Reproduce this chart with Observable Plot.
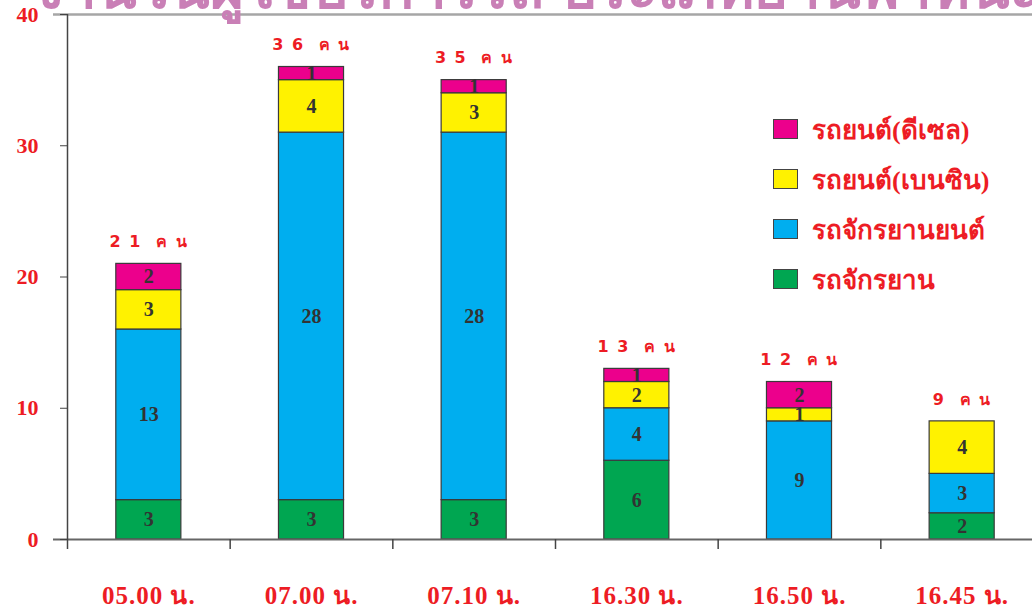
<!DOCTYPE html>
<html>
<head>
<meta charset="utf-8">
<script src="https://cdn.jsdelivr.net/npm/d3@7"></script>
<script src="https://cdn.jsdelivr.net/npm/@observablehq/plot@0.6"></script>
<style>
  html, body { margin: 0; padding: 0; background: #fff; }
  #wrap { position: relative; width: 1032px; height: 610px; overflow: hidden; }
  #title { position: absolute; left: 30px; top: -40px; white-space: nowrap;
           font: bold 58px "Liberation Serif", "Noto Sans", serif; color: #c97fb6; line-height: 1; }
  #legend { position: absolute; left: 773px; top: 104px; }
  .lg { display: flex; align-items: center; height: 50px; }
  .sw { width: 25px; height: 20px; border: 1.5px solid #444; box-sizing: border-box; margin-right: 14px; }
  .lt { font: bold 26px "Liberation Serif", "Noto Sans", serif; color: #ed1c24; }
  svg { position: absolute; left: 0; top: 0; }
</style>
</head>
<body>
<div id="wrap">
  <div id="chart"></div>
  <div id="title">จำนวนผู้ใช้บริการรถ ประเภทยานพาหนะ แยกตามช่วงเวลาที่ผู้ใช้บริการ</div>
  <div id="legend"></div>
</div>
<script>
const categories = ["05.00 น.", "07.00 น.", "07.10 น.", "16.30 น.", "16.50 น.", "16.45 น."];
const types = ["รถจักรยาน", "รถจักรยานยนต์", "รถยนต์(เบนซิน)", "รถยนต์(ดีเซล)"];
const colors = ["#00a651", "#00aeef", "#fff200", "#ec008c"];
const bicycle = [3, 3, 3, 6, 0, 2];
const motorcycle = [13, 28, 28, 4, 9, 3];
const benzine = [3, 4, 3, 2, 1, 4];
const diesel = [2, 1, 1, 1, 2, 0];
const yTicks = [0, 10, 20, 30, 40];

const series = [bicycle, motorcycle, benzine, diesel];
const rows = [];
categories.forEach((c, i) => series.forEach((s, j) => rows.push({cat: c, type: types[j], value: s[i]})));
const totals = categories.map((c, i) => ({cat: c, total: series.reduce((a, s) => a + s[i], 0)}));

const RED = "#ed1c24";
const serif = "Liberation Serif, Times New Roman, serif";
const step = (1043 - 67) / 6;

const plot = Plot.plot({
  width: 1032,
  height: 610,
  marginTop: 14,
  marginBottom: 71,
  marginLeft: 67,
  marginRight: 0,
  x: {domain: categories, range: [67, 1043], paddingInner: 0.6, paddingOuter: 0.3, round: false, axis: null},
  y: {domain: [0, 40], axis: null},
  color: {domain: types, range: colors},
  marks: [
    Plot.ruleY([40], {stroke: "#a6a6a6", strokeWidth: 2.5, insetLeft: -14}),
    Plot.barY(rows, {x: "cat", y: "value", fill: "type", order: types, stroke: "#3a3a3a", strokeWidth: 1.2}),
    Plot.text(rows.filter(d => d.value > 0), Plot.stackY({x: "cat", y: "value", z: "type", order: types, text: d => String(d.value),
      fill: "#333", fontSize: 20, fontWeight: "bold", fontFamily: serif})),
    Plot.text(totals, {x: "cat", y: "total", dy: -22, text: d => String(d.total).split("").join(" ") + "  ค น",
      fill: RED, fontSize: 16, fontWeight: "bold", fontFamily: "DejaVu Sans, Noto Sans, sans-serif"}),
    Plot.ruleY([0], {stroke: "#666", strokeWidth: 2, insetLeft: -14}),
    Plot.ruleX(categories.slice(0, 1), {x: d => d, dx: -step / 2, y1: 0, y2: 40, stroke: "#444", strokeWidth: 1.5}),
    Plot.axisX({tickSize: 10, tickFormat: () => "", label: null, dx: -step / 2, stroke: "#444", strokeWidth: 1.5}),
    Plot.axisX({tickSize: 0, tickPadding: 47, label: null, fill: RED, fontSize: 25, fontWeight: "bold", fontFamily: serif}),
    Plot.axisY({ticks: yTicks, tickSize: 7, tickPadding: 22, label: null, fill: RED, stroke: "#444", fontSize: 22, fontWeight: "bold", fontFamily: serif})
  ]
});
document.getElementById("chart").appendChild(plot);
plot.querySelectorAll("text").forEach(t => {
  if (/ค น/.test(t.textContent)) t.style.letterSpacing = "1.5px";
  if (categories.includes(t.textContent)) t.style.letterSpacing = "1px";
});

const lg = document.getElementById("legend");
[3, 2, 1, 0].forEach(j => {
  const row = document.createElement("div");
  row.className = "lg";
  row.innerHTML = `<div class="sw" style="background:${colors[j]}"></div><div class="lt">${types[j]}</div>`;
  lg.appendChild(row);
});
</script>
</body>
</html>
